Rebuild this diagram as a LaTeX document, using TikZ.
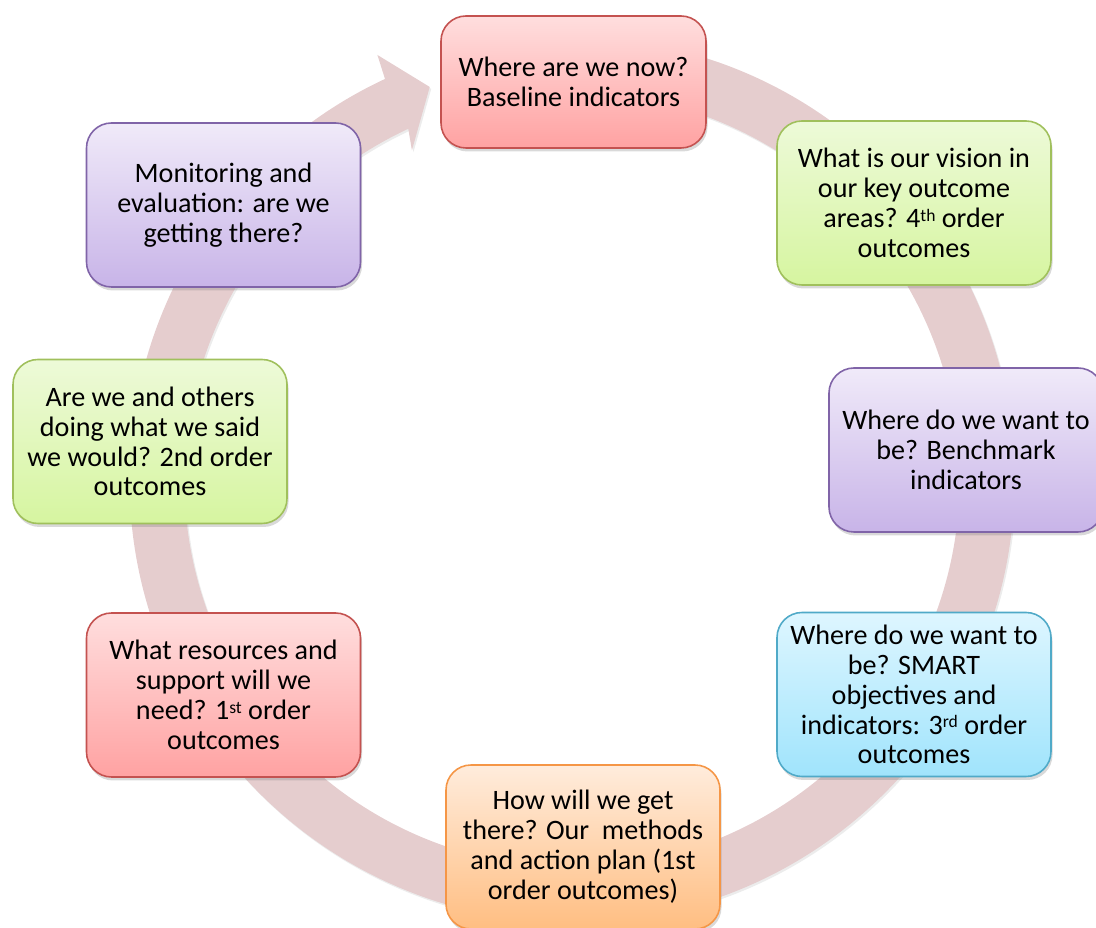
\documentclass[tikz,border=0pt]{standalone}
\usepackage{fontspec}
\setmainfont{Carlito}
\usetikzlibrary{shadows}
\definecolor{ringpink}{RGB}{229,205,206}
\definecolor{redline}{RGB}{196,82,80}
\definecolor{redtop}{RGB}{255,222,222}
\definecolor{redbot}{RGB}{255,162,162}
\definecolor{greenline}{RGB}{160,192,92}
\definecolor{greentop}{RGB}{237,250,216}
\definecolor{greenbot}{RGB}{214,245,160}
\definecolor{purpleline}{RGB}{128,100,168}
\definecolor{purpletop}{RGB}{240,234,249}
\definecolor{purplebot}{RGB}{200,180,232}
\definecolor{blueline}{RGB}{80,170,200}
\definecolor{bluetop}{RGB}{222,246,255}
\definecolor{bluebot}{RGB}{160,228,252}
\definecolor{orangeline}{RGB}{245,150,70}
\definecolor{orangetop}{RGB}{255,236,220}
\definecolor{orangebot}{RGB}{255,190,130}
\newcommand{\ordsup}[1]{\raisebox{0.45ex}{\fontsize{10}{10}\selectfont #1}}
\begin{document}
\begin{tikzpicture}[
  stagebox/.style={draw, rounded corners=0.5cm, line width=0.9pt, align=center,
    minimum width=5.48cm, minimum height=3.28cm, inner sep=2pt,
    font=\fontsize{16}{17}\selectfont,
    drop shadow={opacity=0.3, shadow xshift=0.03cm, shadow yshift=-0.07cm}},
  redbox/.style={stagebox, draw=redline, top color=redtop, bottom color=redbot},
  greenbox/.style={stagebox, draw=greenline, top color=greentop, bottom color=greenbot},
  purplebox/.style={stagebox, draw=purpleline, top color=purpletop, bottom color=purplebot},
  bluebox/.style={stagebox, draw=blueline, top color=bluetop, bottom color=bluebot},
  orangebox/.style={stagebox, draw=orangeline, top color=orangetop, bottom color=orangebot}
]
\useasboundingbox (0,0) rectangle (21.92,18.54);
% circular arrow behind the boxes
\begin{scope}[shift={(11.44,8.94)}]
\fill[ringpink, drop shadow={opacity=0.15, shadow xshift=0.03cm, shadow yshift=-0.04cm}]
  (90:8.85) arc[start angle=90, end angle=-245, radius=8.85]
  -- (-245.4:9.35) -- (-250.1:8.36) -- (-244.1:7.33) -- (-245:7.75)
  arc[start angle=-245, end angle=90, radius=7.75] -- cycle;
\end{scope}
% stages
\node[redbox, minimum width=5.3cm, minimum height=2.64cm] (now) at (11.47,16.90)
  {Where are we now?\\Baseline indicators};
\node[greenbox] (vision) at (18.28,14.48)
  {What is our vision in\\our key outcome\\areas? 4\ordsup{th} order\\outcomes};
\node[purplebox] (bench) at (19.32,9.54)
  {Where do we want to\\be? Benchmark\\indicators};
\node[bluebox] (smart) at (18.28,4.65)
  {Where do we want to\\be? SMART\\objectives and\\indicators: 3\ordsup{rd} order\\outcomes};
\node[orangebox] (method) at (11.66,1.60)
  {How will we get\\there? Our\ \ methods\\and action plan (1st\\order outcomes)};
\node[redbox] (resource) at (4.47,4.64)
  {What resources and\\support will we\\need? 1\ordsup{st} order\\outcomes};
\node[greenbox] (doing) at (3.00,9.71)
  {Are we and others\\doing what we said\\we would? 2nd order\\outcomes};
\node[purplebox] (monitor) at (4.47,14.44)
  {Monitoring and\\evaluation: are we\\getting there?};
\end{tikzpicture}
\end{document}
